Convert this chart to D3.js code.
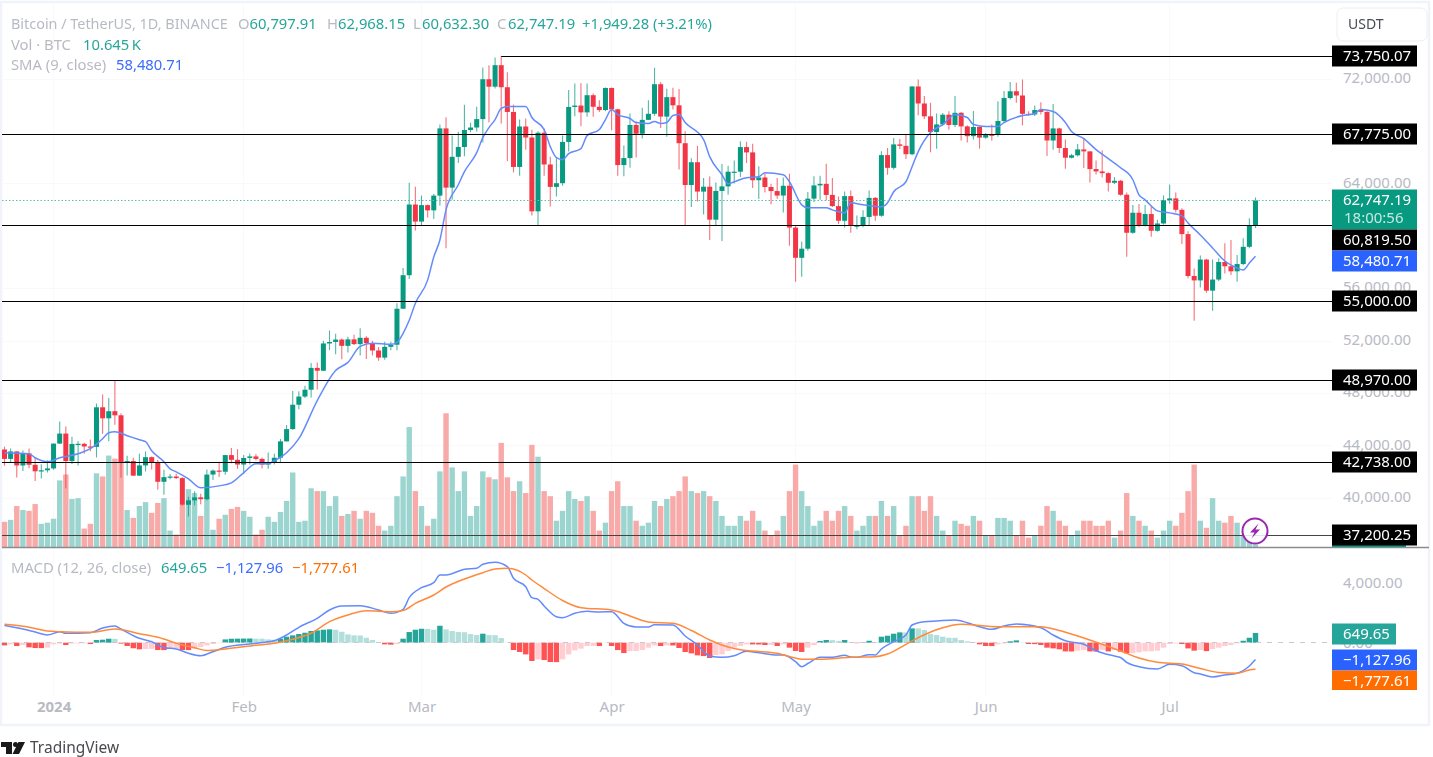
<!DOCTYPE html>
<html>
<head>
<meta charset="utf-8">
<title>BTCUSDT</title>
<script src="https://cdn.jsdelivr.net/npm/d3@7"></script>
<style>
html, body { margin: 0; padding: 0; background: #fff; }
svg { display: block; font-family: "Noto Sans", sans-serif; filter: blur(0.35px); }
</style>
</head>
<body>
<div id="canvas"></div>
<script>
// daily candles, 24 Dec 2023 to 15 Jul 2024
const opens = [43728,43010,43580,42509,43428,42563,42066,42140,
42283,44179,44946,42845,44151,44162,43958,43929,46951,46110,46653,46339,42782,42847,41732,42511,43143,42776,41262,41618,41665,41545,39507,39845,40077,39933,41816,42120,42031,43302,42941,
42580,43082,43200,43011,42582,42708,43098,44349,45288,47147,47771,48293,49958,49742,51826,51939,52122,51642,52137,51774,52258,51849,51288,50744,51568,51728,54476,57037,62432,
61130,62387,61987,63113,68245,63724,66074,66823,68124,68313,68955,72000,71429,73072,71388,69500,65300,68390,67548,61912,67913,65491,63778,64062,67211,69880,69988,69469,70780,69897,69645,
71333,69702,65446,65980,68508,67837,68896,69360,71620,69146,70631,70006,67116,63924,65661,63419,63793,61277,63470,63818,64940,64941,66819,66414,64289,64498,63770,63461,63118,63866,
60672,58364,59060,62882,63892,64012,63165,62312,61193,63074,60799,60825,61484,62940,61577,66206,65235,67024,66915,66274,71446,70148,69166,67969,68549,69290,68507,69436,68398,67652,68352,
67540,67766,67765,68809,70567,71082,70757,69355,69310,69648,69508,67321,68243,66747,66007,66191,66639,66490,65140,64960,64828,64096,64245,63180,60277,61806,60864,61706,60427,60986,
62772,62900,62029,60173,56977,56639,58230,55857,56704,58046,57718,57333,57888,59204,60797.91];
const closes = [43010,43580,42509,43428,42563,42066,42140,42283,
44179,44946,42845,44151,44162,43958,43929,46951,46110,46653,46339,42782,42847,41732,42511,43143,42776,41262,41618,41665,41545,39507,39845,40077,39933,41816,42120,42031,43302,42941,42580,
43082,43200,43011,42582,42708,43098,44349,45288,47147,47771,48293,49958,49742,51826,51939,52122,51642,52137,51774,52258,51849,51288,50744,51568,51728,54476,57037,62432,61130,
62387,61987,63113,68245,63724,66074,66823,68124,68313,68955,72000,71429,73072,71388,69500,65300,68390,67548,61912,67913,65491,63778,64062,67211,69880,69988,69469,70780,69897,69645,71333,
69702,65446,65980,68508,67837,68896,69360,71620,69146,70631,70006,67116,63924,65661,63419,63793,61277,63470,63818,64940,64941,66819,66414,64289,64498,63770,63461,63118,63866,60672,
58364,59060,62882,63892,64012,63165,62312,61193,63074,60799,60825,61484,62940,61577,66206,65235,67024,66915,66274,71446,70148,69166,67969,68549,69290,68507,69436,68398,67652,68352,67540,
67766,67765,68809,70567,71082,70757,69355,69310,69648,69508,67321,68243,66747,66007,66191,66639,66490,65140,64960,64828,64096,64245,63180,60277,61806,60864,61706,60427,60986,62772,
62900,62029,60173,56977,56639,58230,55857,56704,58046,57718,57333,57888,59204,60797.91,62747.19];
const highs = [43945,43800,43600,43660,43800,43120,42600,42900,
44185,45860,45480,44700,44350,44240,44500,47240,47930,47670,48950,46500,
43260,43100,43400,43580,43200,42930,42180,41850,41880,
41610,40120,40550,40350,42200,42200,42800,43300,43850,43750,
43300,43420,43380,43120,43490,43400,44530,45600,48200,48170,48600,50330,
50370,52040,52816,52570,52200,52330,52490,52990,52370,
52040,51550,51950,51950,54900,57590,64100,63790,
63120,62430,63230,68540,69100,67700,67980,70060,
68670,69900,72900,73060,73650,73750,72530,70060,68920,69000,
68150,68030,68240,66090,65970,67700,71170,71680,71700,71680,70916,70400,71366,
71366,69750,66930,69380,68790,69820,70400,72880,71780,71280,71350,71250,
68020,65960,66900,64450,64580,64120,65530,65400,65790,67270,67220,67080,65350,64830,64000,
64450,64500,64780,60830,59600,63380,64590,64630,65540,64450,63050,63430,63510,
61590,61990,63510,63000,66500,66750,67520,67440,67770,71480,71980,70720,
70200,69380,69420,69560,70720,69500,68480,69580,68400,67900,68550,
70320,71100,71780,71730,71980,69560,70000,70250,69560,70100,68300,
67400,66300,67060,67520,66500,65800,66550,64900,64520,64300,
63350,62400,62480,62400,62280,61270,63130,63960,63350,62150,60400,57550,
58550,58300,58230,58330,59470,59720,58580,59850,61390,62968.15];
const lows = [42490,42720,41590,42090,42300,41330,41520,41965,
42180,44150,40750,42630,42500,43400,43600,43120,44940,44350,45620,41570,
41750,41700,41700,42050,42200,40650,40280,41450,41480,
39430,38610,39480,39550,39830,41400,41620,41800,42680,42250,
41880,42580,42880,42270,42260,42580,42780,44330,45240,46800,47670,47700,
48300,49720,51310,51000,50625,51140,51715,50900,50630,
50900,50500,50580,51300,51300,54450,56740,60440,
60780,61450,61320,62360,59100,62790,65600,66120,
67950,68000,67160,68720,71300,68620,65730,64880,64630,66620,
61590,60870,64630,62280,63050,63870,66490,69180,68410,69130,69130,69500,69560,
68100,64630,64590,65250,66030,67470,68896,69200,68270,67600,69690,65100,
60800,62250,62670,61680,59730,60830,59650,63180,64030,64530,65600,63690,62860,63350,62450,
62880,61820,59290,56530,56920,58900,62620,62790,62740,62250,60950,60670,60280,
60540,60700,60830,61200,61500,64700,65100,66670,65900,66200,69250,68970,
66420,66700,68450,68150,68360,67330,67170,67400,66700,67450,67300,
67600,68700,70450,70200,68480,69200,69200,69300,66140,66620,66360,
65170,65950,66100,65220,64120,64730,64500,63420,64000,63100,
58450,60200,60700,60750,59980,60350,60900,62500,61820,59420,56800,53550,
56100,55700,54320,56600,57170,57050,56530,57800,59100,60632.30];
const volumesK = [91,98,147,133,130,154,84,88,102,238,259,172,175,67,84,263,252,326,315,308,
133,105,147,161,123,158,175,60,46,151,207,193,112,179,63,102,116,137,144,130,
109,46,63,109,91,126,165,266,91,95,210,200,200,147,182,112,119,130,102,130,
123,77,60,77,182,252,427,200,147,77,102,270,476,284,200,270,112,147,270,249,
242,371,249,200,235,193,364,322,200,182,95,130,200,172,165,182,130,60,88,200,
235,147,147,95,77,88,165,147,172,182,200,252,200,193,200,182,165,112,77,77,
112,95,130,95,60,42,60,112,200,294,200,147,77,95,130,95,130,147,112,60,
77,112,112,165,112,147,42,77,182,182,130,182,112,60,42,95,84,77,112,95,
42,42,105,105,95,42,95,35,42,77,147,130,95,77,42,60,95,95,77,77,
95,35,60,193,112,95,77,60,35,60,95,77,123,200,294,95,70,175,95,88,
112,88,42,25,10.645];
const smaDays = [0,4,5,7,9,12,14,16,17,18,20,22,23,24,26,27,28,30,32,35,37,39,41,43,44,46,48,51,54,56,58,60,63,64,65,66,67,69,70,71,72,74,75,77,78,79,80,81,82,85,86,88,89,90,91,92,94,95,97,98,99,100,102,103,105,106,107,108,109,110,111,114,115,117,118,119,121,123,124,127,128,130,131,134,135,137,138,140,143,144,145,147,148,149,151,153,155,157,158,160,162,163,166,168,169,171,173,174,176,178,180,182,184,185,186,188,190,192,193,195,197,199,201,202,203,204];
const smaValues = [43481,43405,43098,42791,43098,43405,43788,44554,45014,45090,44784,44477,44324,43634,42791,42255,42025,41489,40799,40952,41182,41949,42638,42638,42868,43481,44554,47466,49765,50378,51604,51834,51757,51910,52600,53596,54899,56662,58424,59727,62026,63941,64938,66394,67543,68309,68922,69765,69918,69918,69076,68156,66853,66010,65857,66317,66700,67696,68156,68922,69689,69305,68999,68692,68616,68769,68616,68692,69229,69305,68692,67390,66087,64708,64018,64171,64478,64554,64861,64708,64171,62409,62179,62179,62026,61796,62562,62409,62255,62562,63405,64171,65321,66470,67926,68539,69305,69076,68539,68386,68386,68692,69229,69382,69689,69535,68692,68003,67466,66623,65934,65244,64325,63175,62792,61949,61796,61566,61029,60110,59114,58118,57581,57428,57964,58480.71];
const macdDays = [0,3,5,7,9,10,14,16,18,19,22,24,26,28,30,32,34,36,40,43,44,46,48,51,53,55,58,61,63,65,66,68,70,71,72,75,77,78,80,82,83,85,86,87,88,90,91,93,95,97,99,101,103,105,106,109,111,113,115,117,119,121,123,126,127,129,130,131,133,135,137,138,139,141,142,143,145,147,148,150,152,155,157,159,161,163,165,169,171,173,176,178,181,182,183,185,188,190,192,194,195,197,199,201,203,204];
const macdValues = [1147,913,713,513,733,627,667,980,1113,913,293,67,-333,-420,-707,-867,-600,-307,-87,67,133,513,1027,1627,2180,2447,2467,2180,1960,2227,3000,3667,4000,4513,4513,4893,4960,5227,5360,5067,4293,3733,3000,2893,2447,1733,1667,1960,2093,2047,2067,1293,1047,1047,1200,1180,447,-153,-887,-973,-867,-573,-667,-820,-820,-1267,-1600,-1387,-973,-973,-840,-953,-973,-800,-820,-420,67,513,1180,1400,1447,1513,1333,1067,893,1113,1247,1000,513,133,-107,-533,-887,-987,-1307,-1600,-1753,-1440,-1533,-2000,-2087,-2287,-2153,-2040,-1553,-1127.96];
const signalDays = [0,3,5,7,9,14,18,22,25,29,31,33,36,41,44,47,50,53,56,59,63,65,67,70,72,75,78,80,82,85,86,88,91,94,99,102,105,109,112,115,118,120,122,126,128,130,133,138,142,144,147,150,153,156,162,169,172,176,180,182,185,188,192,195,198,201,203,204];
const signalValues = [1233,1093,947,780,733,693,913,600,360,-153,-333,-520,-420,-173,-40,227,627,1400,1847,2133,2067,2147,2627,3180,3713,4247,4667,4913,4960,4513,4180,3613,2813,2333,2180,1780,1380,1293,813,180,-287,-467,-553,-707,-920,-1107,-1107,-973,-933,-753,-107,533,1000,1227,1067,1067,813,313,-253,-553,-1020,-1307,-1420,-1720,-1987,-2040,-1820,-1777.61];
const histValues = [-178,-110,-220,-155,-310,-355,-360,-330,-110,-60,-155,-60,-50,-40,-90,178,200,265,260,-60,
-220,-370,-440,-420,-410,-490,-495,-400,-390,-490,-495,-400,-290,-180,-90,-30,220,265,270,275,
280,270,265,220,200,270,400,490,580,665,780,820,865,890,865,730,555,490,480,330,
180,30,-110,-130,-100,267,710,866,930,925,866,1130,888,777,710,700,577,510,600,510,
500,311,20,-490,-620,-780,-1220,-1110,-1155,-1290,-1295,-1110,-780,-510,-400,-220,-215,-225,-20,-220,
-490,-690,-555,-550,-490,-330,-180,-220,-180,-185,-355,-620,-710,-845,-890,-1020,-820,-780,-555,-330,
-220,-110,-115,-120,-155,-150,-220,-110,-330,-555,-620,-330,-155,110,178,170,110,178,20,-30,
40,130,40,400,465,600,690,680,955,950,845,575,510,400,330,325,180,90,-10,-110,
-220,-225,-110,-50,90,155,20,-90,-95,-155,-330,-380,-440,-580,-585,-530,-490,-580,-590,-490,
-580,-490,-600,-710,-700,-640,-580,-575,-530,-330,-90,-50,-90,-380,-530,-490,-560,-420,-330,-220,
-155,-40,130,330,649.65];
const priceTicks = [72000,64000,56000,52000,48000,44000,40000];
const macdTicks = [4000,0];
const monthDays = [8,39,68,99,129,160,190];
const monthLabels = ['2024','Feb','Mar','Apr','May','Jun','Jul'];
const levelValues = [73750.07,67775,60819.5,55000,48970,42738,37200.25];
const lastClose = 62747.19;
const lastVolume = '10.645\u2009K';

const width = 1433;
const height = 757;
const paneRight = 1332;
const up = '#089981';
const down = '#f23645';
const grey = '#b8bac3';
const blue = '#648bfb';
const orange = '#ff8a3c';

const svg = d3.select('#canvas').append('svg')
    .attr('width', width)
    .attr('height', height);

const xScale = d3.scaleLinear().domain([0, 204]).range([4.5, 1255.5]);
const yScale = d3.scaleLinear().domain([37200.25, 73750.07]).range([535, 56.3]);
const volScale = d3.scaleLinear().domain([0, 500]).range([547.5, 406.5]);
const macdScale = d3.scaleLinear().domain([0, 4000]).range([642.7, 582.7]);
const money = d3.format(',.2f');
const days = d3.range(closes.length);
const bodyWidth = 5;
const px = v => Math.floor(v) + 0.5;

// frame
svg.append('rect').attr('x', 1).attr('y', 2).attr('width', 1428).attr('height', 723)
    .attr('fill', '#fff').attr('stroke', '#f0f3fa').attr('stroke-width', 2.5);

// faint grid
const grid = svg.append('g').attr('stroke', '#f9f9fb');
grid.selectAll('.gx').data(monthDays).join('line')
    .attr('x1', d => px(xScale(d))).attr('x2', d => px(xScale(d)))
    .attr('y1', 3).attr('y2', 696);
grid.selectAll('.gy').data(priceTicks).join('line')
    .attr('x1', 2).attr('x2', paneRight)
    .attr('y1', d => px(yScale(d))).attr('y2', d => px(yScale(d)));

// volume
svg.append('g').selectAll('rect').data(days).join('rect')
    .attr('x', i => xScale(i) - 2.7)
    .attr('width', 5.4)
    .attr('y', i => volScale(volumesK[i]))
    .attr('height', i => volScale(0) - volScale(volumesK[i]))
    .attr('fill', i => closes[i] >= opens[i] ? '#9cd5cf' : '#f8aaa8');

// candles
const candles = svg.append('g').selectAll('g').data(days).join('g')
    .attr('fill', i => closes[i] >= opens[i] ? up : down)
    .attr('stroke', i => closes[i] >= opens[i] ? up : down);
candles.append('line')
    .attr('x1', i => xScale(i)).attr('x2', i => xScale(i))
    .attr('y1', i => yScale(highs[i])).attr('y2', i => yScale(lows[i]))
    .attr('stroke-opacity', 0.7).attr('stroke-width', 1.1);
candles.append('rect')
    .attr('x', i => xScale(i) - bodyWidth / 2)
    .attr('width', bodyWidth)
    .attr('y', i => yScale(Math.max(opens[i], closes[i])))
    .attr('height', i => Math.max(1.2, Math.abs(yScale(opens[i]) - yScale(closes[i]))))
    .attr('stroke', 'none');

// SMA
const smaLine = d3.line().x((d, k) => xScale(smaDays[k])).y(d => yScale(d)).curve(d3.curveMonotoneX);
svg.append('path').attr('d', smaLine(smaValues))
    .attr('fill', 'none').attr('stroke', blue).attr('stroke-width', 1.5);

// last price dotted
svg.append('line').attr('x1', 2).attr('x2', paneRight)
    .attr('y1', px(yScale(lastClose))).attr('y2', px(yScale(lastClose)))
    .attr('stroke', '#5fbfae').attr('stroke-width', 1.2).attr('stroke-dasharray', '1.5 2');

// horizontal levels
svg.append('g').selectAll('line').data(levelValues).join('line')
    .attr('x1', (d, i) => i === 0 ? xScale(81) : 2)
    .attr('x2', paneRight)
    .attr('y1', d => px(yScale(d))).attr('y2', d => px(yScale(d)))
    .attr('stroke', d => d === 37200.25 ? '#444' : '#000');

// pane separator
svg.append('line').attr('x1', 2).attr('x2', 1429).attr('y1', 547.5).attr('y2', 547.5)
    .attr('stroke', '#8b8b8f').attr('stroke-width', 1.4);

// histogram
const histColor = (v, i) => {
    const prev = i ? histValues[i - 1] : 0;
    if (v >= 0) return v > prev ? '#26a69a' : '#b2dfdb';
    return v < prev ? '#ff5252' : '#ffcdd2';
};
svg.append('g').selectAll('rect').data(histValues).join('rect')
    .attr('x', (d, i) => xScale(i) - 2.7)
    .attr('width', 5.4)
    .attr('y', d => Math.min(macdScale(d), macdScale(0)))
    .attr('height', d => Math.abs(macdScale(d) - macdScale(0)))
    .attr('fill', histColor);

svg.append('line').attr('x1', 2).attr('x2', paneRight)
    .attr('y1', px(macdScale(0))).attr('y2', px(macdScale(0)))
    .attr('stroke', '#c9cacf').attr('stroke-dasharray', '5 6');

// MACD lines
const macdLine = d3.line().x((d, k) => xScale(macdDays[k])).y(d => macdScale(d)).curve(d3.curveMonotoneX);
const signalLine = d3.line().x((d, k) => xScale(signalDays[k])).y(d => macdScale(d)).curve(d3.curveMonotoneX);
svg.append('path').attr('d', macdLine(macdValues))
    .attr('fill', 'none').attr('stroke', blue).attr('stroke-width', 1.5);
svg.append('path').attr('d', signalLine(signalValues))
    .attr('fill', 'none').attr('stroke', orange).attr('stroke-width', 1.5);

// axes
const priceAxis = d3.axisRight(yScale).tickValues(priceTicks).tickFormat(money).tickSize(0).tickPadding(0);
const macdAxis = d3.axisRight(macdScale).tickValues(macdTicks).tickFormat(money).tickSize(0).tickPadding(0);
const timeAxis = d3.axisBottom(xScale).tickValues(monthDays).tickFormat((d, i) => monthLabels[i]).tickSize(0).tickPadding(0);
[svg.append('g').attr('transform', 'translate(1343,-1.7)').call(priceAxis),
 svg.append('g').attr('transform', 'translate(1343,0)').call(macdAxis),
 svg.append('g').attr('transform', 'translate(0,701)').call(timeAxis)].forEach(g => {
    g.select('.domain').remove();
    g.selectAll('text').attr('fill', grey).attr('font-size', 15).attr('font-family', '"Noto Sans", sans-serif');
});
svg.selectAll('text').filter(function () { return this.textContent === '2024'; }).attr('font-weight', 700);

// price labels on the right
const tag = (y, h, w, fill, label, color) => {
    svg.append('rect').attr('x', paneRight).attr('y', y).attr('width', w).attr('height', h).attr('fill', fill);
    svg.append('text').attr('x', 1343).attr('y', y + 15.5).attr('font-size', 15).attr('fill', color || '#fff').text(label);
};
const labelY = v => Math.floor(yScale(v)) - 10.5;
svg.append('rect').attr('x', paneRight).attr('y', 545).attr('width', 74).attr('height', 2).attr('fill', up);
tag(labelY(73750.07), 21, 85, '#000', money(73750.07));
tag(labelY(67775), 21, 85, '#000', money(67775));
tag(189.5, 40, 85, up, money(lastClose));
svg.append('text').attr('x', 1344).attr('y', 223).attr('font-size', 15).attr('fill', '#c6e8e1').text('18:00:56');
tag(229.5, 21, 85, '#000', money(60819.5));
tag(250.5, 21, 85, '#2962ff', money(smaValues[smaValues.length - 1]));
tag(labelY(55000), 21, 85, '#000', money(55000));
tag(labelY(48970), 21, 85, '#000', money(48970));
tag(labelY(42738), 21, 85, '#000', money(42738));
tag(labelY(37200.25), 21, 85, '#000', money(37200.25));
tag(623.5, 21, 64, '#26a69a', money(histValues[histValues.length - 1]));
tag(649.5, 21, 85, '#2962ff', money(macdValues[macdValues.length - 1]));
tag(670.5, 19.5, 85, '#ff6d00', money(signalValues[signalValues.length - 1]));

// USDT button
svg.append('rect').attr('x', 1337).attr('y', 8).attr('width', 90).attr('height', 33).attr('rx', 6)
    .attr('fill', '#fff').attr('stroke', '#eceef3');
svg.append('text').attr('x', 1348).attr('y', 29).attr('font-size', 14).attr('fill', '#4a4c55').text('USDT');

// legend
const legend = (x, y, label, color, size) => svg.append('text').attr('x', x).attr('y', y)
    .attr('font-size', size || 14.8).attr('fill', color).text(label);
const teal = '#26a69a';
legend(11, 28.5, 'Bitcoin / TetherUS, 1D, BINANCE', grey, 14.4);
legend(238, 28.5, 'O', grey); legend(249.5, 28.5, money(opens[204]), teal);
legend(327, 28.5, 'H', grey); legend(338, 28.5, money(highs[204]), teal);
legend(413, 28.5, 'L', grey); legend(422, 28.5, money(lows[204]), teal);
legend(497, 28.5, 'C', grey); legend(508, 28.5, money(lastClose), teal);
legend(582, 28.5, '+1,949.28 (+3.21%)', teal);
legend(11, 49.5, 'Vol · BTC', grey); legend(83, 49.5, lastVolume, teal);
legend(11, 70, 'SMA (9, close)', grey); legend(116, 70, money(smaValues[smaValues.length - 1]), '#3b6cff');
legend(11, 573, 'MACD (12, 26, close)', grey);
legend(161, 573, money(histValues[histValues.length - 1]), teal);
legend(216, 573, money(macdValues[macdValues.length - 1]), '#3b6cff');
legend(292, 573, money(signalValues[signalValues.length - 1]), '#ff6d00');

// alert icon over the 37,200 level
svg.append('circle').attr('cx', 1255).attr('cy', 531).attr('r', 12.5)
    .attr('fill', '#fff').attr('fill-opacity', 0.85).attr('stroke', '#9c27b0').attr('stroke-width', 2);
svg.append('path').attr('d', 'M1258.5 523.5 L1250 532.5 L1254.5 532.5 L1251.5 538.5 L1260 529.5 L1255.5 529.5 Z').attr('fill', '#9c27b0');

// TradingView mark
svg.append('path').attr('fill', '#1a1a1a')
    .attr('d', 'M1 742 H12 V754 H6 V747 H1 Z M25 742 L19 754 H12.5 L18.5 742 Z');
svg.append('circle').attr('cx', 15.5).attr('cy', 744.5).attr('r', 2.5).attr('fill', '#1a1a1a');
svg.append('text').attr('x', 30).attr('y', 753).attr('font-size', 15.5).attr('fill', '#4a4a4f').text('TradingView');
</script>
</body>
</html>
